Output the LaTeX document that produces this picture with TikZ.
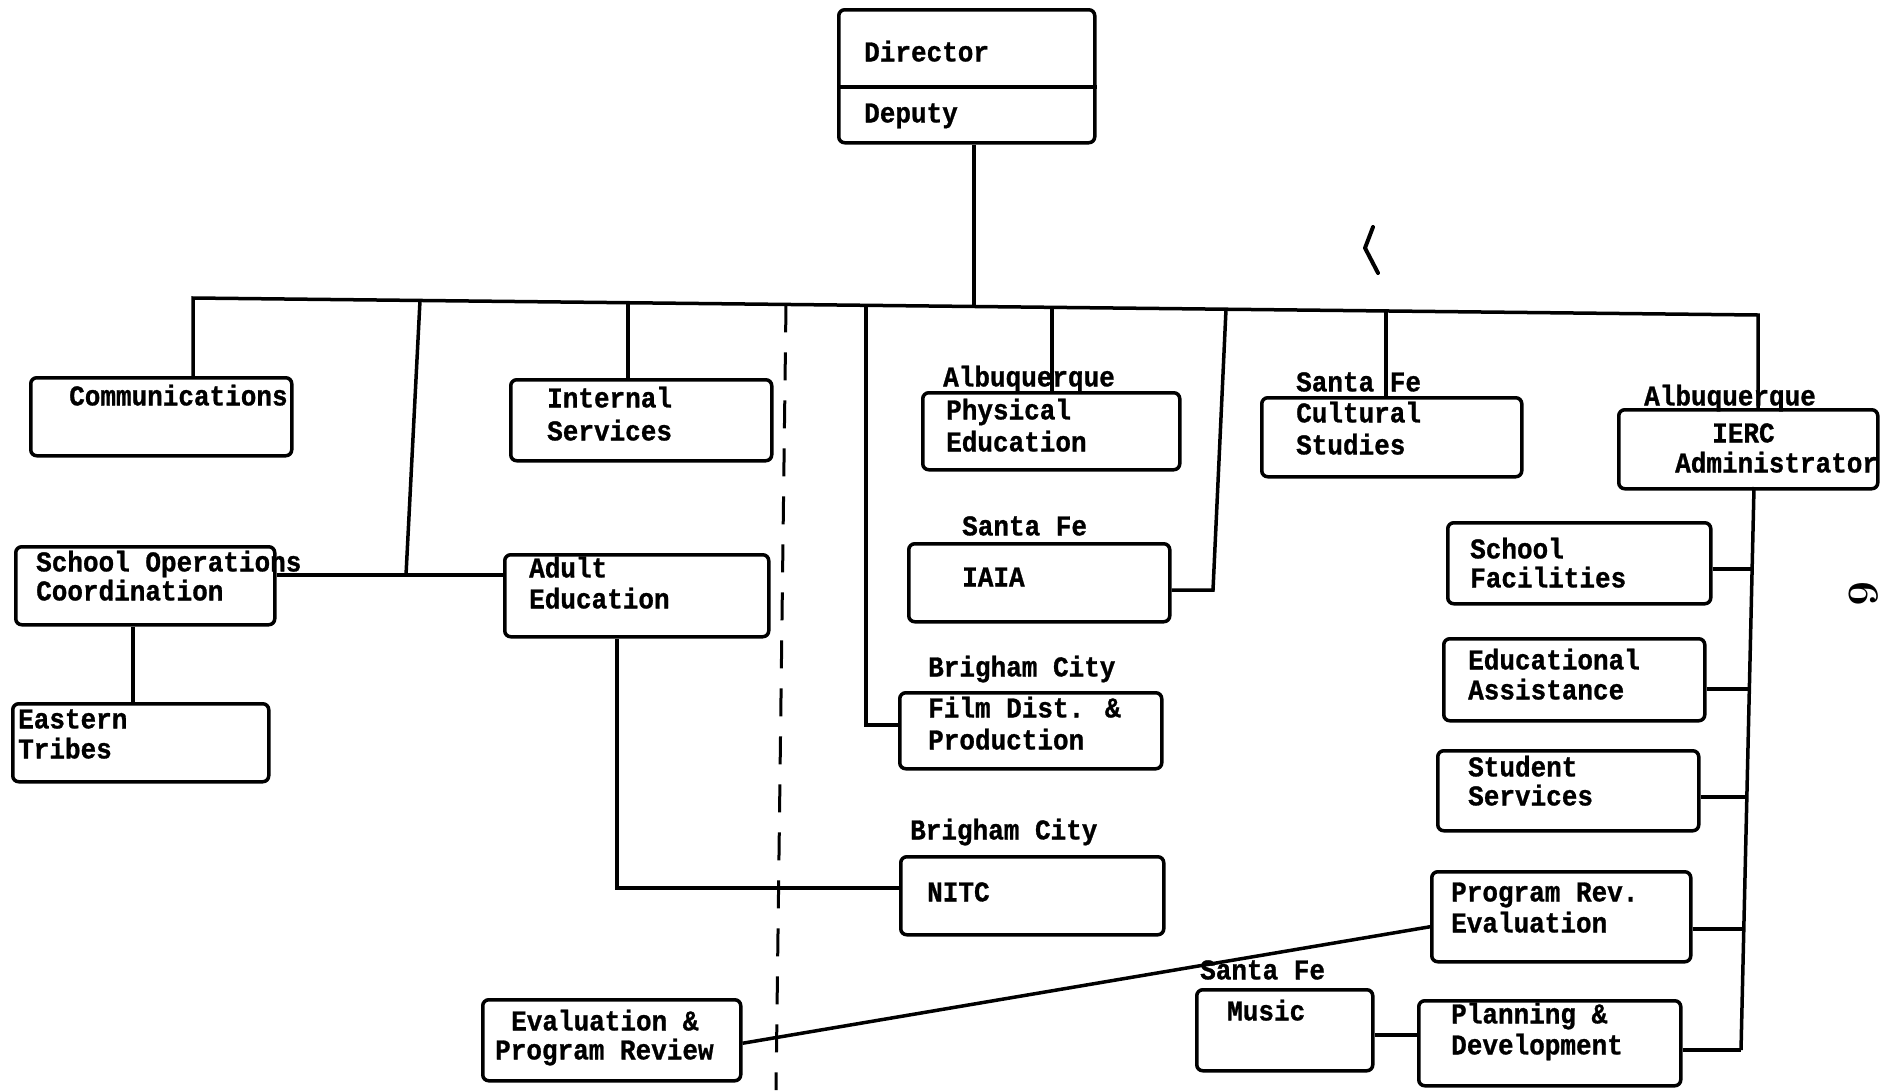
\documentclass[tikz,border=0pt]{standalone}
\usepackage{fontspec}
\newfontfamily\typewriter{Liberation Mono}[BoldFeatures={FakeBold=1}]
\usetikzlibrary{calc}
\begin{document}
\begin{tikzpicture}[x=1pt, y=-1pt,
  typed/.style={font=\typewriter\bfseries\fontsize{26}{31}\selectfont, inner sep=0pt, anchor=mid west, yshift=-6pt, yscale=1.1},
  unit/.style={draw, line width=3.5pt, rounded corners=6pt, inner sep=0pt, anchor=north west},
  link/.style={line width=3.5pt},
  campus/.style={line width=3pt, dash pattern=on 28pt off 20pt},
]
\fill[white] (0,0) rectangle (1894,1090);
\useasboundingbox (0,0) rectangle (1894,1090);

% ---------- boxes (top-left corner, width, height) ----------
\node[unit, minimum width=256pt, minimum height=133pt] (dir) at (837,8) {};
\node[unit, minimum width=261pt, minimum height=78pt] (comm) at (29,376) {};
\node[unit, minimum width=261pt, minimum height=81pt] (intl) at (509,378) {};
\node[unit, minimum width=259pt, minimum height=78pt] (sops) at (14,545) {};
\node[unit, minimum width=256pt, minimum height=78pt] (east) at (11,702) {};
\node[unit, minimum width=264pt, minimum height=82pt] (adult) at (503,553) {};
\node[unit, minimum width=258pt, minimum height=81pt] (evalpr) at (481,998) {};
\node[unit, minimum width=257pt, minimum height=77pt] (phys) at (921,391) {};
\node[unit, minimum width=261pt, minimum height=78pt] (iaia) at (907,542) {};
\node[unit, minimum width=262pt, minimum height=76pt] (film) at (898,691) {};
\node[unit, minimum width=263pt, minimum height=78pt] (nitc) at (899,855) {};
\node[unit, minimum width=260pt, minimum height=79pt] (cult) at (1260,396) {};
\node[unit, minimum width=259pt, minimum height=79pt] (ierc) at (1617,408) {};
\node[unit, minimum width=263pt, minimum height=81pt] (schfac) at (1446,521) {};
\node[unit, minimum width=261pt, minimum height=82pt] (edas) at (1442,637) {};
\node[unit, minimum width=261pt, minimum height=80pt] (stud) at (1436,749) {};
\node[unit, minimum width=259pt, minimum height=90pt] (progrev) at (1430,870) {};
\node[unit, minimum width=262pt, minimum height=85pt] (plan) at (1417,999) {};
\node[unit, minimum width=176pt, minimum height=81pt] (music) at (1195,988) {};

% Director / Deputy divider
\coordinate (dirsplit) at (0,87);
\draw[link] (dir.west |- dirsplit) -- (dir.east |- dirsplit);

% ---------- texts ----------
\node[typed] (tdir) at (864,53) {Director};
\node[typed] (tdep) at (864,114) {Deputy};
\node[typed] (tcomm) at (69,397) {Communications};
\node[typed] (tintl1) at (547,399) {Internal};
\node[typed] (tintl2) at (547,432) {Services};
\node[typed] (tsops1) at (36,563) {School Operations};
\node[typed] (tsops2) at (36,592) {Coordination};
\node[typed] (teast1) at (18,720) {Eastern};
\node[typed] (teast2) at (18,750) {Tribes};
\node[typed] (tadult1) at (529,569) {Adult};
\node[typed] (tadult2) at (529,600) {Education};
\node[typed] (tevalpr1) at (511,1022) {Evaluation \&};
\node[typed] (tevalpr2) at (495,1051) {Program Review};
\node[typed] (lphys) at (943,378) {Albuquerque};
\node[typed] (tphys1) at (946,411) {Physical};
\node[typed] (tphys2) at (946,443) {Education};
\node[typed] (liaia) at (962,527) {Santa Fe};
\node[typed] (tiaia) at (962,578) {IAIA};
\node[typed] (lfilm) at (928,668) {Brigham City};
\node[typed] (tfilm1) at (928,709) {Film Dist. \&};
\node[typed] (tfilm2) at (928,741) {Production};
\node[typed] (lnitc) at (910,831) {Brigham City};
\node[typed] (tnitc) at (927,893) {NITC};
\node[typed] (lcult) at (1296,383) {Santa Fe};
\node[typed] (tcult1) at (1296,414) {Cultural};
\node[typed] (tcult2) at (1296,446) {Studies};
\node[typed] (lierc) at (1644,397) {Albuquerque};
\node[typed] (tierc1) at (1712,434) {IERC};
\node[typed] (tierc2) at (1675,464) {Administrator};
\node[typed] (tschfac1) at (1470,550) {School};
\node[typed] (tschfac2) at (1470,579) {Facilities};
\node[typed] (tedas1) at (1468,661) {Educational};
\node[typed] (tedas2) at (1468,691) {Assistance};
\node[typed] (tstud1) at (1468,768) {Student};
\node[typed] (tstud2) at (1468,797) {Services};
\node[typed] (tprogrev1) at (1451,893) {Program Rev.};
\node[typed] (tprogrev2) at (1451,924) {Evaluation};
\node[typed] (lmusic) at (1200,971) {Santa Fe};
\node[typed] (tmusic) at (1227,1012) {Music};
\node[typed] (tplan1) at (1451,1015) {Planning \&};
\node[typed] (tplan2) at (1451,1046) {Development};

% page number, typed sideways
\node[font=\bfseries\fontsize{44}{44}\selectfont, inner sep=0pt, rotate=-90] (pageno) at (1864,594) {6};

% ---------- main bus ----------
\coordinate (busL) at (193,298);
\coordinate (busR) at (1758,315);
\coordinate (bmid) at (420,300.5);
\coordinate (bintl) at (628,302.7);
\coordinate (bline) at (786,304.4);
\coordinate (bfilm) at (866,305.3);
\coordinate (bdir) at (974,306.5);
\coordinate (bphys) at (1052,307.3);
\coordinate (biaia) at (1226,309.2);
\coordinate (bcult) at (1386,311);

\draw[link] (busL |- comm.north) -- (busL) -- (busR) -- (busR |- ierc.north);
\draw[link] (dir.south -| bdir) -- (bdir);
\draw[link] (bintl) -- (bintl |- intl.north);
\draw[link] (bphys) -- (bphys |- phys.north);
\draw[link] (bcult) -- (bcult |- cult.north);

% left-hand branch to School Operations / Adult Education
\coordinate (jsops) at (406,575);
\draw[link] (bmid) -- (jsops);
\draw[link] (sops.east |- jsops) -- (adult.west |- jsops);
\coordinate (jeast) at (133,0);
\draw[link] (sops.south -| jeast) -- (east.north -| jeast);

% Adult Education to NITC
\coordinate (jnitc) at (617,888);
\draw[link] (adult.south -| jnitc) -- (jnitc) -- (nitc.west |- jnitc);

% Film Dist. & Production
\coordinate (jfilm) at (866,725);
\draw[link] (bfilm) -- (jfilm) -- (film.west |- jfilm);

% IAIA
\coordinate (jiaia) at (1213,590);
\draw[link] (biaia) -- (jiaia) -- (iaia.east |- jiaia);

% campus boundary
\coordinate (lineB) at (776,1090);
\draw[campus] (bline) -- (lineB);

% IERC spine and its units
\coordinate (spT) at (1754,487);
\coordinate (spB) at (1741,1050);
\draw[link] (spT) -- (spB);
\coordinate (s1) at (1752,569);
\coordinate (s2) at (1749.4,689);
\coordinate (s3) at (1746.9,797);
\coordinate (s4) at (1743.9,929);
\draw[link] (schfac.east |- s1) -- (s1);
\draw[link] (edas.east |- s2) -- (s2);
\draw[link] (stud.east |- s3) -- (s3);
\draw[link] (progrev.east |- s4) -- (s4);
\draw[link] (plan.east |- spB) -- (spB);

% Music to Planning & Development
\coordinate (jmusic) at (0,1035);
\draw[link] (music.east |- jmusic) -- (plan.west |- jmusic);

% Evaluation & Program Review to Program Rev. Evaluation
\draw[link] ([yshift=-3pt]evalpr.east) -- ([yshift=-10pt]progrev.west);

% pencil mark
\draw[line width=4pt, line cap=round, line join=round] (1373,227) -- (1365,248) -- (1378,273);
\end{tikzpicture}
\end{document}
